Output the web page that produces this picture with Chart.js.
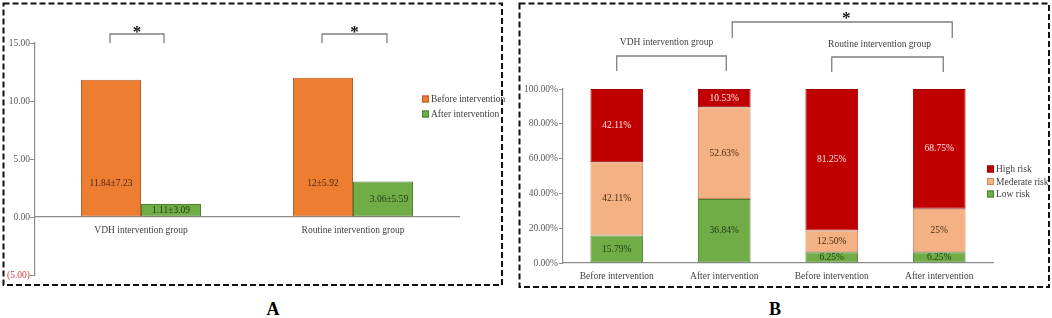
<!DOCTYPE html>
<html>
<head>
<meta charset="utf-8">
<script src="https://cdn.jsdelivr.net/npm/chart.js@4.4.1/dist/chart.umd.min.js"></script>
<style>
  html, body { margin: 0; padding: 0; background: #fff; }
  body { width: 1052px; height: 318px; position: relative; overflow: hidden; }
  canvas { position: absolute; top: 0; }
  #chartA { left: 0; }
  #chartB { left: 510px; }
  .letter {
    position: absolute;
    font-family: 'Liberation Serif', serif;
    font-weight: bold;
    font-size: 18px;
    line-height: 18px;
    transform: translate(-50%, -50%);
  }
</style>
</head>
<body>
<canvas id="chartA" width="510" height="292"></canvas>
<canvas id="chartB" width="542" height="292"></canvas>
<div class="letter" style="left:273px; top:309px;">A</div>
<div class="letter" style="left:775px; top:309px;">B</div>
<script>
// Panel A data
const groupsA = ['VDH intervention group', 'Routine intervention group'];
const beforeA = [11.84, 12];
const afterA = [1.11, 3.06];
const beforeLabelsA = ['11.84±7.23', '12±5.92'];
const afterLabelsA = ['1.11±3.09', '3.06±5.59'];
const ticksA = [-5, 0, 5, 10, 15];

// Panel B data
const stagesB = ['Before intervention', 'After intervention', 'Before intervention', 'After intervention'];
const groupsB = ['VDH intervention group', 'Routine intervention group'];
const lowB = [15.79, 36.84, 6.25, 6.25];
const moderateB = [42.11, 52.63, 12.50, 25];
const highB = [42.11, 10.53, 81.25, 68.75];
const lowLabelsB = ['15.79%', '36.84%', '6.25%', '6.25%'];
const moderateLabelsB = ['42.11%', '52.63%', '12.50%', '25%'];
const highLabelsB = ['42.11%', '10.53%', '81.25%', '68.75%'];
const ticksB = [0, 20, 40, 60, 80, 100];

const FONT = "'Liberation Serif', 'Times New Roman', serif";
const AXIS_COLOR = '#8c8c8c';
const TEXT_COLOR = '#595959';

// dashed frame around each panel
const framePlugin = {
    id: 'frame',
    beforeDraw(chart, args, opts) {
        const ctx = chart.ctx;
        ctx.save();
        ctx.fillStyle = '#fff';
        ctx.fillRect(0, 0, chart.width, chart.height);
        ctx.strokeStyle = '#111';
        ctx.lineWidth = 2;
        ctx.setLineDash([6, 3]);
        ctx.strokeRect(opts.left, opts.top, opts.right - opts.left, opts.bottom - opts.top);
        ctx.restore();
    }
};

// small square legend drawn where the original has it
const boxLegendPlugin = {
    id: 'boxLegend',
    afterDraw(chart, args, opts) {
        const ctx = chart.ctx;
        let sets = chart.data.datasets.slice();
        if (opts.reverse) sets.reverse();
        ctx.save();
        ctx.font = '9.5px ' + FONT;
        ctx.textBaseline = 'middle';
        sets.forEach((ds, i) => {
            const y = opts.y + i * opts.spacing;
            ctx.fillStyle = ds.backgroundColor;
            ctx.strokeStyle = ds.borderColor;
            ctx.lineWidth = 1;
            ctx.fillRect(opts.x, y - 3.5, 7, 7);
            ctx.strokeRect(opts.x + 0.5, y - 3, 6, 6);
            ctx.fillStyle = '#404040';
            ctx.fillText(ds.label, opts.x + 9, y + 0.5);
        });
        ctx.restore();
    }
};

// value labels inside the bars
const barLabelPlugin = {
    id: 'barLabels',
    afterDatasetsDraw(chart) {
        const ctx = chart.ctx;
        ctx.save();
        ctx.font = '9.5px ' + FONT;
        ctx.textAlign = 'center';
        ctx.textBaseline = 'middle';
        chart.data.datasets.forEach((ds, di) => {
            if (!ds.valueLabels) return;
            const meta = chart.getDatasetMeta(di);
            meta.data.forEach((bar, i) => {
                const f = ds.labelFrac === undefined ? 0.5 : ds.labelFrac;
                const y = bar.base + (bar.y - bar.base) * f;
                ctx.fillStyle = ds.labelColor;
                ctx.fillText(ds.valueLabels[i], bar.x + (ds.labelShift ? ds.labelShift[i] : 0), y);
            });
        });
        ctx.restore();
    }
};

function drawBracket(ctx, x1, x2, yTop, yLeg) {
    ctx.beginPath();
    ctx.moveTo(x1, yLeg);
    ctx.lineTo(x1, yTop);
    ctx.lineTo(x2, yTop);
    ctx.lineTo(x2, yLeg);
    ctx.stroke();
}

function drawStar(ctx, x, y) {
    ctx.save();
    ctx.fillStyle = '#111';
    ctx.font = 'bold 17px ' + FONT;
    ctx.textAlign = 'center';
    ctx.textBaseline = 'alphabetic';
    ctx.fillText('*', x, y + 8);
    ctx.restore();
}

// significance brackets for panel A
const bracketsA = {
    id: 'bracketsA',
    afterDraw(chart) {
        const ctx = chart.ctx;
        const yScale = chart.scales.y;
        const m0 = chart.getDatasetMeta(0), m1 = chart.getDatasetMeta(1);
        const legY = yScale.getPixelForValue(15);
        ctx.save();
        ctx.strokeStyle = '#7f7f7f';
        ctx.lineWidth = 1.3;
        groupsA.forEach((g, i) => {
            const x1 = m0.data[i].x - 1;
            const x2 = m1.data[i].x + (i === 0 ? -7 : 4);
            drawBracket(ctx, x1, x2, legY - 9, legY);
            drawStar(ctx, (x1 + x2) / 2, legY - 14);
        });
        ctx.restore();
    }
};

// group brackets for panel B
const bracketsB = {
    id: 'bracketsB',
    afterDraw(chart) {
        const ctx = chart.ctx;
        const x = chart.scales.x;
        const top = chart.chartArea.top;
        ctx.save();
        ctx.strokeStyle = '#7f7f7f';
        ctx.lineWidth = 1.3;
        ctx.font = '9.5px ' + FONT;
        ctx.fillStyle = '#404040';
        ctx.textAlign = 'center';
        ctx.textBaseline = 'middle';

        const a1 = x.getPixelForValue(0), a2 = x.getPixelForValue(1) + 2;
        drawBracket(ctx, a1, a2, top - 33, top - 18);
        ctx.fillText(groupsB[0], (a1 + a2) / 2 - 5, top - 47);

        const b1 = x.getPixelForValue(2), b2 = x.getPixelForValue(3) + 4;
        drawBracket(ctx, b1, b2, top - 32, top - 17);
        ctx.fillText(groupsB[1], (b1 + b2) / 2 - 8, top - 45);

        const c1 = x.getPixelForValue(1) + 8, c2 = x.getPixelForValue(3) + 13;
        drawBracket(ctx, c1, c2, top - 67, top - 51);
        drawStar(ctx, (c1 + c2) / 2 + 4, top - 74);
        ctx.restore();
    }
};

const chartA = new Chart(document.getElementById('chartA').getContext('2d'), {
    type: 'bar',
    data: {
        labels: groupsA,
        datasets: [
            {
                label: 'Before intervention',
                data: beforeA,
                backgroundColor: '#ED7D31',
                borderColor: '#b5602a',
                borderWidth: 1,
                borderSkipped: false,
                valueLabels: beforeLabelsA,
                labelFrac: 0.24,
                labelColor: '#4a2a12'
            },
            {
                label: 'After intervention',
                data: afterA,
                backgroundColor: '#70AD47',
                borderColor: '#4f7f32',
                borderWidth: 1,
                borderSkipped: false,
                valueLabels: afterLabelsA,
                labelFrac: 0.5,
                labelShift: [0, 6],
                labelColor: '#1f3a12'
            }
        ]
    },
    options: {
        responsive: false,
        animation: false,
        layout: { padding: { left: 3, top: 43, right: 51, bottom: 17 } },
        datasets: { bar: { barPercentage: 1, categoryPercentage: 0.566 } },
        plugins: {
            legend: { display: false },
            tooltip: { enabled: false },
            frame: { left: 3.5, top: 3.5, right: 502, bottom: 285 },
            boxLegend: { x: 422, y: 99, spacing: 15 }
        },
        scales: {
            x: {
                position: { y: 0 },
                grid: { display: true, drawOnChartArea: false, drawTicks: false },
                border: { color: AXIS_COLOR, width: 1.2 },
                ticks: { color: '#404040', padding: 8, font: { family: FONT, size: 9.5 } }
            },
            y: {
                min: -5,
                max: 15,
                afterFit(scale) { scale.width = 32; },
                afterBuildTicks(scale) { scale.ticks = ticksA.map(v => ({ value: v })); },
                grid: { display: true, drawOnChartArea: false, tickLength: 5, color: AXIS_COLOR },
                border: { color: AXIS_COLOR, width: 1.2 },
                ticks: {
                    padding: 0,
                    font: { family: FONT, size: 9.5 },
                    color: ctx => ctx.tick.value < 0 ? '#d03a3a' : TEXT_COLOR,
                    callback: v => v < 0 ? '(' + Math.abs(v).toFixed(2) + ')' : v.toFixed(2)
                }
            }
        }
    },
    plugins: [framePlugin, boxLegendPlugin, barLabelPlugin, bracketsA]
});

const chartB = new Chart(document.getElementById('chartB').getContext('2d'), {
    type: 'bar',
    data: {
        labels: stagesB,
        datasets: [
            {
                label: 'Low risk',
                data: lowB,
                backgroundColor: '#70AD47',
                borderColor: '#4f7f32',
                borderWidth: 1,
                borderSkipped: false,
                valueLabels: lowLabelsB,
                labelColor: '#1f3a12'
            },
            {
                label: 'Mederate risk',
                data: moderateB,
                backgroundColor: '#F4B183',
                borderColor: '#c98a60',
                borderWidth: 1,
                borderSkipped: false,
                valueLabels: moderateLabelsB,
                labelColor: '#4a2a12'
            },
            {
                label: 'High risk',
                data: highB,
                backgroundColor: '#C00000',
                borderColor: '#a00000',
                borderWidth: 1,
                borderSkipped: false,
                valueLabels: highLabelsB,
                labelColor: '#fbe6e6'
            }
        ]
    },
    options: {
        responsive: false,
        animation: false,
        layout: { padding: { left: 8, top: 89, right: 59, bottom: 9 } },
        datasets: { bar: { barPercentage: 0.49, categoryPercentage: 1 } },
        plugins: {
            legend: { display: false },
            tooltip: { enabled: false },
            frame: { left: 9.5, top: 3.5, right: 539, bottom: 287 },
            boxLegend: { x: 477, y: 169, spacing: 12.5, reverse: true }
        },
        scales: {
            x: {
                stacked: true,
                afterFit(scale) { scale.height = 20; },
                grid: { display: true, drawOnChartArea: false, drawTicks: false },
                border: { color: AXIS_COLOR, width: 1.2 },
                ticks: { color: '#404040', padding: 8, font: { family: FONT, size: 9.5 } }
            },
            y: {
                stacked: true,
                min: 0,
                max: 100,
                afterFit(scale) { scale.width = 45; },
                afterBuildTicks(scale) { scale.ticks = ticksB.map(v => ({ value: v })); },
                grid: { display: true, drawOnChartArea: false, tickLength: 4, color: AXIS_COLOR },
                border: { color: AXIS_COLOR, width: 1.2 },
                ticks: {
                    padding: 1,
                    color: TEXT_COLOR,
                    font: { family: FONT, size: 9.5 },
                    callback: v => v.toFixed(2) + '%'
                }
            }
        }
    },
    plugins: [framePlugin, boxLegendPlugin, barLabelPlugin, bracketsB]
});
</script>
</body>
</html>
